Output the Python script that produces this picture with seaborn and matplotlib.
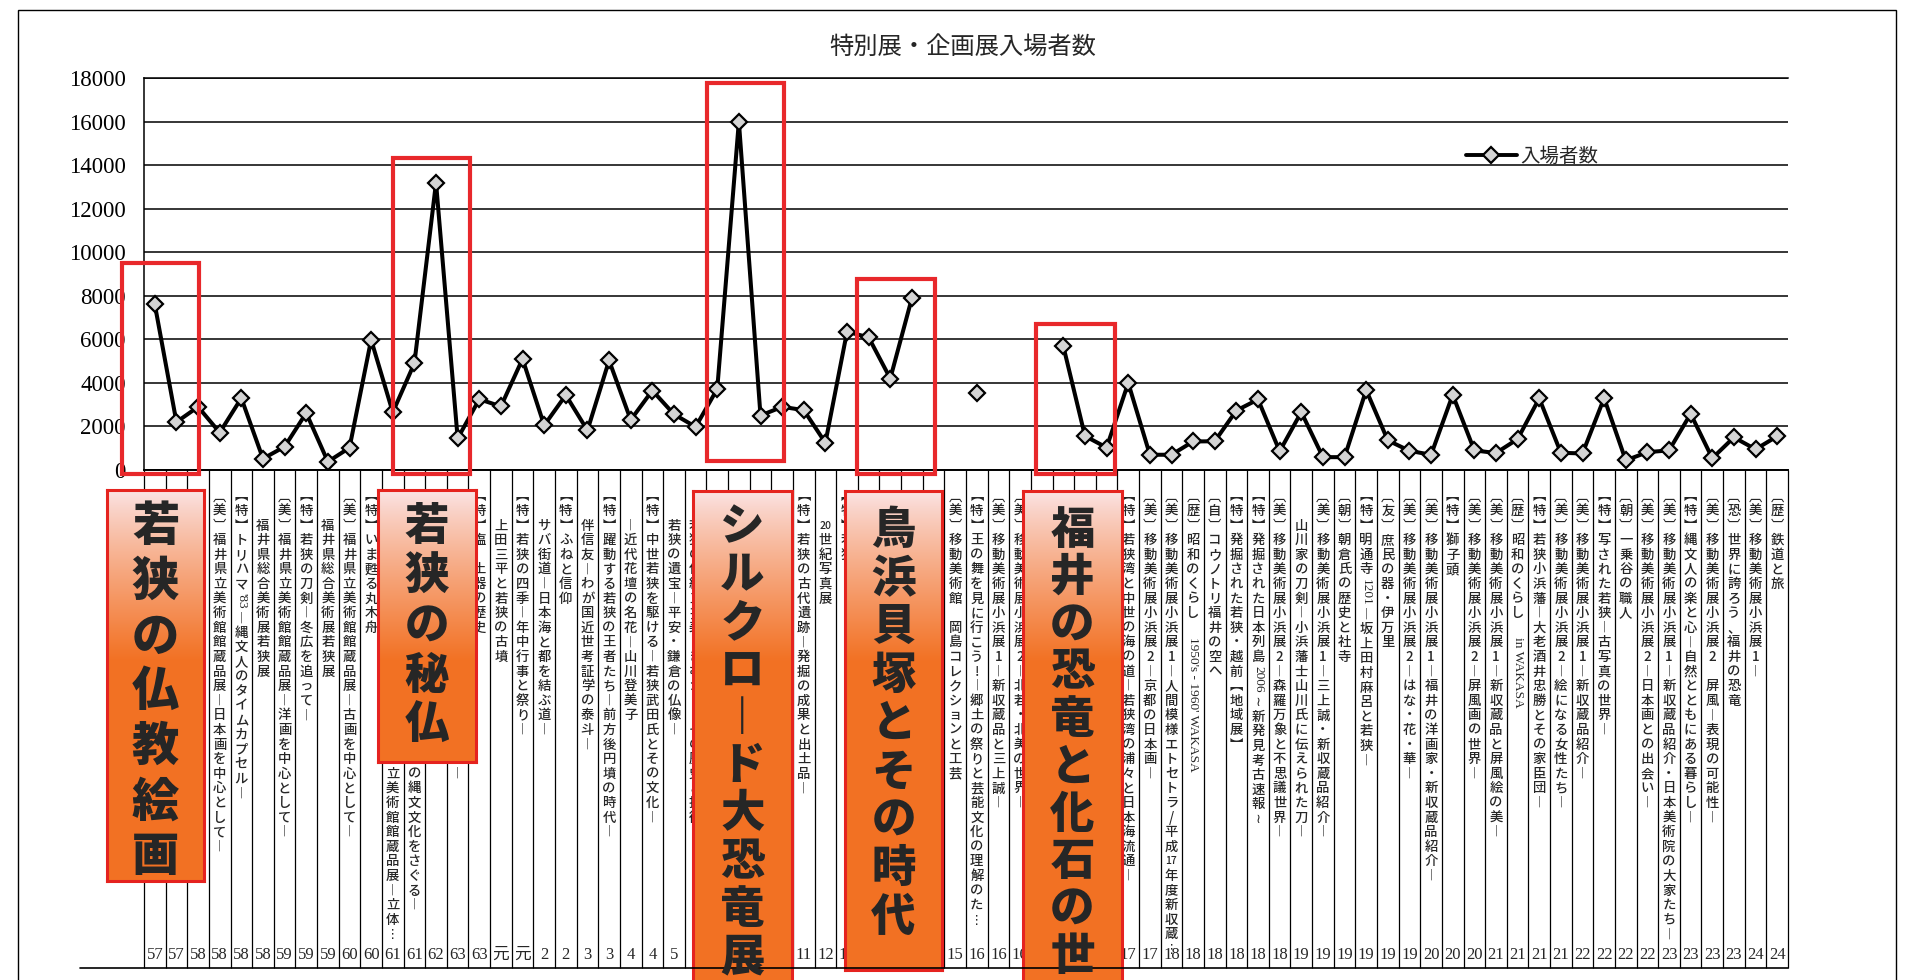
import numpy as np
import pandas as pd
import matplotlib
matplotlib.use("Agg")
import matplotlib.pyplot as plt
import matplotlib.transforms as mtransforms
from matplotlib.patches import Rectangle
from matplotlib.lines import Line2D
from matplotlib.collections import LineCollection
from matplotlib.font_manager import FontProperties
import seaborn as sns

# ---------------- data ----------------
chart_title = "特別展・企画展入場者数"
series_name = "入場者数"

visitors = [7600, 2200, 2900, 1720, 3300, 520, 1070, 2620, 380, 1020,
            5980, 2650, 4900, 13200, 1450, 3250, 2920, 5100, 2050, 3440,
            1820, 5030, 2300, 3650, 2560, 1980, 3720, 16000, 2500, 2900,
            2750, 1250, 6350, 6090, 4200, 7900, None, None, 3530, None,
            None, None, 5680, 1560, 1030, 4000, 700, 700, 1310, 1320,
            2730, 3240, 860, 2660, 590, 590, 3670, 1360, 880, 700,
            3450, 900, 780, 1420, 3290, 790, 760, 3300, 440, 820,
            900, 2580, 540, 1500, 950, 1550]

years = ["57", "57", "58", "58", "58", "58", "59", "59", "59", "60",
         "60", "61", "61", "62", "63", "63", "元", "元", "2", "2",
         "3", "3", "4", "4", "5", "6", "", "", "", "",
         "11", "12", "13", "", "", "", "", "15", "16", "16",
         "16", "", "", "", "", "17", "17", "18", "18", "18",
         "18", "18", "18", "19", "19", "19", "19", "19", "19", "20",
         "20", "20", "21", "21", "21", "21", "22", "22", "22", "22",
         "23", "23", "23", "23", "24", "24"]

exhibitions = [
    "", "", "",
    "[美]福井県立美術館館蔵品展―日本画を中心として―",
    "【特】トリハマ'83―縄文人のタイムカプセル―",
    "　　福井県総合美術展若狭展",
    "[美]福井県立美術館館蔵品展―洋画を中心として―",
    "【特】若狭の刀剣―冬広を追って―",
    "　　福井県総合美術展若狭展",
    "[美]福井県立美術館館蔵品展―古画を中心として―",
    "【特】いま甦る丸木舟",
    "　" * 19 + "立美術館館蔵品展―立体…",
    "　" * 19 + "の縄文文化をさぐる―",
    "",
    "　" * 19 + "―",
    "【特】塩　土器の歴史",
    "　　上田三平と若狭の古墳",
    "【特】若狭の四季―年中行事と祭り―",
    "　　サバ街道―日本海と都を結ぶ道―",
    "【特】ふねと信仰",
    "　　伴信友―わが国近世考証学の泰斗―",
    "【特】躍動する若狭の王者たち―前方後円墳の時代―",
    "　　―近代花壇の名花―山川登美子",
    "【特】中世若狭を駆ける―若狭武田氏とその文化―",
    "　　若狭の遺宝―平安・鎌倉の仏像―",
    "　　若狭の伝統工芸美しきむかし―その歴史と技術―",
    "", "", "", "",
    "【特】若狭の古代遺跡―発掘の成果と出土品―",
    "　　20世紀写真展",
    "【特】若狭…",
    "", "", "", "",
    "[美]移動美術館　岡島コレクションと工芸",
    "【特】王の舞を見に行こう!―郷土の祭りと芸能文化の理解のた…",
    "[美]移動美術展小浜展1―新収蔵品と三上誠―",
    "[美]移動美術展小浜展2―北若・北美の世界―",
    "", "", "", "",
    "【特】若狭湾と中世の海の道―若狭湾の浦々と日本海流通―",
    "[美]移動美術展小浜展2―京都の日本画―",
    "[美]移動美術展小浜展1―人間模様エトセトラ/平成17年度新収蔵…",
    "[歴]昭和のくらし　1950's - 1960' WAKASA",
    "[自]コウノトリ福井の空へ",
    "【特】発掘された若狭・越前【地域展】",
    "【特】発掘された日本列島2006~新発見考古速報~",
    "[美]移動美術展小浜展2―森羅万象と不思議世界―",
    "　　山川家の刀剣―小浜藩士山川氏に伝えられた刀―",
    "[美]移動美術展小浜展1―三上誠・新収蔵品紹介―",
    "[朝]朝倉氏の歴史と社寺",
    "【特】明通寺1201―坂上田村麻呂と若狭―",
    "[友]庶民の器・伊万里",
    "[美]移動美術展小浜展2―はな・花・華―",
    "[美]移動美術展小浜展1―福井の洋画家・新収蔵品紹介―",
    "【特】獅子頭",
    "[美]移動美術展小浜展2―屏風画の世界―",
    "[美]移動美術展小浜展1―新収蔵品と屏風絵の美―",
    "[歴]昭和のくらし　in WAKASA",
    "【特】若狭小浜藩―大老酒井忠勝とその家臣団―",
    "[美]移動美術展小浜展2―絵になる女性たち―",
    "[美]移動美術展小浜展1―新収蔵品紹介―",
    "【特】写された若狭―古写真の世界―",
    "[朝]一乗谷の職人",
    "[美]移動美術展小浜展2―日本画との出会い―",
    "[美]移動美術展小浜展1―新収蔵品紹介・日本美術院の大家たち―",
    "【特】縄文人の楽と心―自然とともにある暮らし―",
    "[美]移動美術展小浜展2　屏風―表現の可能性―",
    "[恐]世界に誇ろう、福井の恐竜",
    "[美]移動美術展小浜展1―",
    "[歴]鉄道と旅",
]

highlight_titles = ["若狭の仏教絵画", "若狭の秘仏", "シルクロード大恐竜展",
                    "鳥浜貝塚とその時代", "福井の恐竜と化石の世界"]

y_ticks = list(range(0, 18001, 2000))

assert len(visitors) == len(years) == len(exhibitions) == 76

# ---------------- layout (pixels of the 1912x980 canvas) ----------------
W, H = 1912, 980
AX_L, AX_R, AX_T, AX_B = 144, 1788, 78, 470
LABEL_TOP, LABEL_PITCH, LABEL_FS = 489, 14.6, 9.6
YEAR_Y, BOTTOM_LINE_Y = 955, 968
box_rects = [(107, 490, 204, 881), (378, 490, 476, 762), (693, 491, 792, 1000),
             (845, 491, 942, 970), (1023, 491, 1122, 1000)]
box_fs = [34, 32, 32, 32, 32]
box_pitch = [55, 49.5, 47.8, 48.4, 47.4]
box_first = [527, 527, 527, 530, 530]
red_rects = [(122, 263, 199, 474), (393, 158, 470, 474), (707, 83, 784, 461),
             (857, 279, 935, 474), (1036, 324, 1115, 474)]

CJK = ["Noto Sans CJK JP", "DejaVu Sans"]
LATIN = "Liberation Serif"


def fx(px):
    return px / W


def fy(py):
    return 1 - py / H


sns.set_theme(style="white")
plt.rcParams["font.family"] = CJK

fig = plt.figure(figsize=(W / 100, H / 100), dpi=100, facecolor="white")
ax = fig.add_axes([fx(AX_L), fy(AX_B), (AX_R - AX_L) / W, (AX_B - AX_T) / H])

# ---------------- line plot ----------------
df = pd.DataFrame({"no": np.arange(1, 77),
                   "visitors": [np.nan if v is None else v for v in visitors]})
df["seg"] = df["visitors"].isna().cumsum()
df = df.dropna()
sns.lineplot(data=df, x="no", y="visitors", units="seg", estimator=None,
             color="black", lw=2.9, marker="D", markersize=8.5,
             markerfacecolor="#d4d4d4", markeredgecolor="black",
             markeredgewidth=1.6, ax=ax, legend=False)

ax.set_xlim(0.5, 76.5)
ax.set_ylim(0, 18000)
ax.set_autoscale_on(False)
ax.set_xticks([])
ax.set_yticks(y_ticks)
ax.set_yticklabels([str(t) for t in y_ticks], fontsize=16.5, fontfamily=LATIN)
ax.tick_params(axis="y", length=0, pad=13, colors="black")
ax.set_xlabel("")
ax.set_ylabel("")
ax.yaxis.grid(True, color="black", lw=1.1)
ax.xaxis.grid(False)
for side in ["left", "bottom", "top"]:
    ax.spines[side].set_visible(True)
    ax.spines[side].set_color("black")
ax.spines["left"].set_linewidth(1.1)
ax.spines["bottom"].set_linewidth(1.4)
ax.spines["top"].set_linewidth(1.1)
ax.spines["right"].set_visible(False)

# legend
h = Line2D([], [], color="black", lw=2.8, marker="D", markersize=8.5,
           markerfacecolor="#d4d4d4", markeredgecolor="black", markeredgewidth=1.6)
ax.legend([h], [series_name], loc="center left", bbox_to_anchor=(fx(1466), fy(156)),
          bbox_transform=fig.transFigure, frameon=False, fontsize=14,
          handlelength=2.6, handletextpad=0.2, borderpad=0, borderaxespad=0)

# title
fig.text(fx(963), fy(47), chart_title, ha="center", va="center", fontsize=17.5, family=CJK)

# ---------------- category area ----------------
trans = mtransforms.blended_transform_factory(ax.transData, fig.transFigure)
segs = [[(b, fy(AX_B)), (b, fy(BOTTOM_LINE_Y))] for b in np.arange(0.5, 77, 1.0)]
ax.add_collection(LineCollection(segs, colors="black", linewidths=0.9,
                                 transform=trans, clip_on=False), autolim=False)
fig.add_artist(Line2D([fx(80), fx(AX_R)], [fy(BOTTOM_LINE_Y), fy(BOTTOM_LINE_Y)],
                      color="black", lw=1.2))

for i, yr in enumerate(years, start=1):
    if yr:
        ax.text(i, fy(YEAR_Y), yr, transform=trans, ha="center", va="center",
                fontsize=12, family=[LATIN] + CJK, clip_on=False)

VMAP = {"[": "︹", "]": "︺", "【": "︻", "】": "︼", "―": "︱", "ー": "︱",
        "…": "⋮", "~": "≀", "(": "︵", ")": "︶"}

renderer = fig.canvas.get_renderer()


def width_px(s, fs):
    prop = FontProperties(family=LATIN, size=fs)
    w, _, _ = renderer.get_text_width_height_descent(s, prop, ismath=False)
    return w


def tokenize(s):
    toks = []
    i = 0
    while i < len(s):
        c = s[i]
        if c == "　":
            toks.append(("space", c))
            i += 1
            continue
        if c.isascii() and c not in "[]()~":
            j = i
            while j < len(s) and s[j].isascii() and s[j] not in "[]()~":
                j += 1
            run = s[i:j]
            toks.append(("up" if len(run) <= 2 else "rot", run.strip()))
            i = j
            continue
        toks.append(("up", VMAP.get(c, c)))
        i += 1
    return toks


def vtext(target, x, ytop, s, fs, pitch, tr, weight="normal"):
    y = ytop
    for kind, tok in tokenize(s):
        if kind == "space":
            y += pitch
        elif kind == "rot":
            w = width_px(tok, fs)
            target.text(x, fy(y + w / 2 + 2), tok, rotation=-90, ha="center", va="center",
                        fontsize=fs, family=[LATIN] + CJK, transform=tr, clip_on=False)
            y += w + 4
        else:
            f = fs if len(tok) == 1 else fs * 0.78
            target.text(x, fy(y + pitch / 2), tok, ha="center", va="center", fontsize=f,
                        family=CJK, weight=weight, transform=tr, clip_on=False)
            y += pitch


for i, lab in enumerate(exhibitions, start=1):
    if lab:
        vtext(ax, i, LABEL_TOP, lab, LABEL_FS, LABEL_PITCH, trans, weight="medium")

# ---------------- highlight boxes ----------------
top_col = np.array([0.985, 0.90, 0.91])
org_col = np.array([0.95, 0.445, 0.14])
for (l, t, r, b), txt, fs, pitch, first in zip(box_rects, highlight_titles, box_fs, box_pitch, box_first):
    bax = fig.add_axes([fx(l), fy(b), (r - l) / W, (b - t) / H])
    n = int(b - t)
    tt = np.clip(np.arange(n) / 170.0, 0, 1) ** 0.85
    img = (top_col[None, :] * (1 - tt[:, None]) + org_col[None, :] * tt[:, None])[:, None, :]
    bax.imshow(img, aspect="auto", extent=[0, 1, 0, 1], interpolation="bilinear")
    bax.set_xlim(0, 1)
    bax.set_ylim(0, 1)
    bax.set_xticks([])
    bax.set_yticks([])
    for sp in bax.spines.values():
        sp.set_visible(True)
        sp.set_color("#e5231f")
        sp.set_linewidth(2.2)
    vtext(fig, fx((l + r) / 2), first - pitch / 2, txt, fs, pitch, fig.transFigure, weight="heavy")

for (l, t, r, b) in red_rects:
    fig.add_artist(Rectangle((fx(l), fy(b)), fx(r) - fx(l), fy(t) - fy(b),
                             transform=fig.transFigure, fill=False,
                             edgecolor="#e8282b", lw=3.0))

# outer frame
fig.add_artist(Rectangle((fx(18), fy(995)), fx(1896) - fx(18), fy(10) - fy(995),
                         transform=fig.transFigure, fill=False, edgecolor="black", lw=1.0))

fig.savefig("out.png", dpi=100, facecolor="white")
